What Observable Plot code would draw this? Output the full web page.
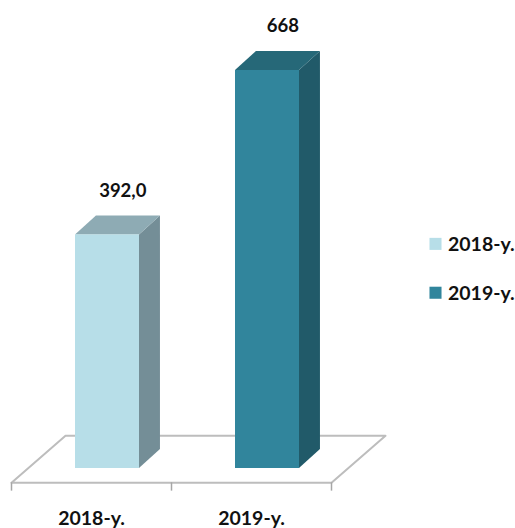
<!DOCTYPE html>
<html>
<head>
<meta charset="utf-8">
<script src="https://cdn.jsdelivr.net/npm/d3@7"></script>
<script src="https://cdn.jsdelivr.net/npm/@observablehq/plot@0.6"></script>
<style>
html,body{margin:0;padding:0;background:#fff}
svg{display:block}
</style>
</head>
<body>
<div id="chart"></div>
<script>
const categories = ["2018-y.", "2019-y."];
const values = [392, 668];
const valueLabels = ["392,0", "668"];
const positions = [0.4, 1.4];
const frontColors = ["#b7dee8", "#31859c"];
const topColors = ["#8eabb4", "#266878"];
const sideColors = ["#748e97", "#215a69"];
const floorColor = "#bdbdbd";
const font = "Lato, 'Open Sans', sans-serif";

const barWidth = 0.4, depthX = 0.131, depthY = 32;
const floorFrontY = -24, floorBackY = 55, floorShiftX = 0.3375;
const legendX = 2.65, legendRowsY = [377, 295];

const bars = categories.map((c, i) => ({
  c, v: values[i], label: valueLabels[i], x0: positions[i], x1: positions[i] + barWidth,
  front: frontColors[i], topFill: topColors[i], sideFill: sideColors[i], legendY: legendRowsY[i]
}));

const sideFaces = bars.flatMap(b => [
  {k: b.c, f: b.sideFill, x: b.x1, y1: 0, y2: b.v},
  {k: b.c, f: b.sideFill, x: b.x1 + depthX, y1: depthY, y2: b.v + depthY}
]);
const topFaces = bars.flatMap(b => [
  {k: b.c, f: b.topFill, y: b.v, x1: b.x0, x2: b.x1},
  {k: b.c, f: b.topFill, y: b.v + depthY, x1: b.x0 + depthX, x2: b.x1 + depthX}
]);
const floorOutline = [
  {x: floorShiftX, y: floorBackY},
  {x: 2 + floorShiftX, y: floorBackY},
  {x: 2, y: floorFrontY},
  {x: 0, y: floorFrontY},
  {x: floorShiftX, y: floorBackY}
];

const plot = Plot.plot({
  width: 515, height: 528,
  margin: 0,
  style: {fontFamily: font, background: "#fff"},
  x: {domain: [0, 2], range: [11, 331], axis: null},
  y: {domain: [0, 668], range: [468, 70], axis: null},
  marks: [
    Plot.line(floorOutline, {x: "x", y: "y", stroke: floorColor, strokeWidth: 2}),
    Plot.ruleX([0, 1, 2], {y1: floorFrontY, y2: floorFrontY - 14, stroke: "#a6a6a6", strokeWidth: 1.5}),
    Plot.areaY(sideFaces, {x: "x", y1: "y1", y2: "y2", z: "k", fill: "f"}),
    Plot.areaX(topFaces, {y: "y", x1: "x1", x2: "x2", z: "k", fill: "f"}),
    Plot.rect(bars, {x1: "x0", x2: "x1", y1: 0, y2: "v", fill: "front"}),
    Plot.text(bars, {x: b => b.x0 + barWidth / 2 + depthX / 2 + 0.03, y: "v", dy: -44, text: "label",
      fontSize: 18.5, fontWeight: 700, fill: "#111"}),
    Plot.text(bars, {x: b => (b.x0 - 0.4) + 0.5, y: floorFrontY, dy: 36, text: "c",
      fontSize: 19.5, fontWeight: 700, fill: "#111"}),
    Plot.dot(bars, {x: legendX, y: "legendY", symbol: "square", r: 6.8, fill: "front"}),
    Plot.text(bars, {x: legendX, y: "legendY", dx: 12.5, dy: 1, text: "c", textAnchor: "start",
      fontSize: 19.5, fontWeight: 700, fill: "#111"})
  ]
});
document.getElementById("chart").append(plot);
</script>
</body>
</html>
